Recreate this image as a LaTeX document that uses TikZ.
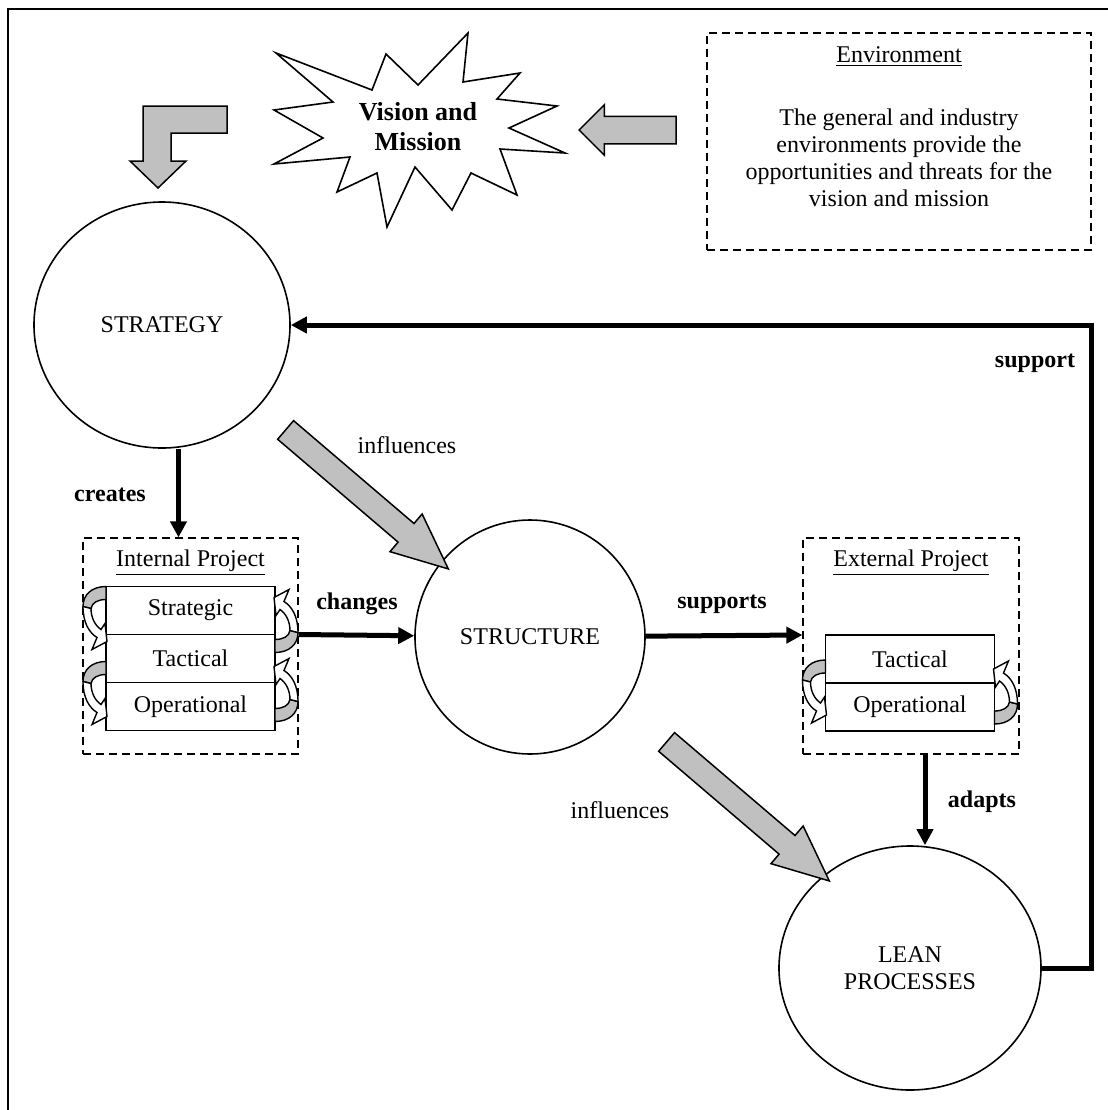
\documentclass[tikz,border=0pt]{standalone}
\usepackage{fontspec}
\setmainfont{Liberation Serif}
\usetikzlibrary{arrows.meta, calc, positioning, shapes.geometric, shapes.arrows}

\begin{document}
\begin{tikzpicture}[x=0.5pt, y=-0.5pt,
    every node/.style={font=\fontsize{12}{13.5}\selectfont},
    circ/.style={draw, ellipse, line width=0.8pt, inner sep=0pt, align=center},
    dashbox/.style={draw, dashed, dash pattern=on 4pt off 2.5pt, line width=0.6pt, inner sep=0pt},
    rowbox/.style={draw, fill=white, line width=0.75pt, minimum width=84.5pt, minimum height=24pt, inner sep=0pt, outer sep=0pt},
    lbl/.style={font=\bfseries\fontsize{12}{13.5}\selectfont},
    flow/.style={line width=2.5pt, -{Triangle[length=8pt,width=8pt]}},
    blockarrow/.style={single arrow, draw, fill=arrowGrey, line width=0.75pt, single arrow head indent=0pt, inner sep=0pt},
    curl/.pic={
        \draw[fill=arrowGrey, line width=0.7pt] (0,0) .. controls (-14,0) and (-23,8) .. (-23,20) -- (-15,22) .. controls (-14,16) and (-8,13) .. (0,13) -- cycle;
        \draw[fill=white, line width=0.7pt] (-23,20) .. controls (-23,36) and (-17,46) .. (-9,51) -- (-14,63) -- (1,55) -- (-1,37) -- (-5,43) .. controls (-11,39) and (-15,31) .. (-15,22) -- cycle;
    }]
    \definecolor{arrowGrey}{HTML}{C0C0C0}

    \useasboundingbox (0,0) rectangle (1108,1110);

    % Frame
    \draw[line width=1pt] (8,1110) -- (8,9) -- (1108,9);

    % Vision and mission
    \draw[line width=0.8pt, fill=white] (276,53) -- (372,90) -- (386,54) -- (418,85) -- (468,33) -- (463,82)
        -- (520,73) -- (497,99) -- (557,106) -- (509,128) -- (565,153) -- (500,149) -- (517,195) -- (471,173)
        -- (452,210) -- (415,167) -- (387,227) -- (377,173) -- (337,192) -- (350,157) -- (274,164) -- (323,138)
        -- (274,110) -- (333,102) -- cycle;
    \node[align=center, font=\bfseries\fontsize{13}{15}\selectfont] (vision) at (418,127) {Vision and\\Mission};

    % Environment
    \node[dashbox, minimum width=192pt, minimum height=108.5pt] (env) at (899,141.5) {};
    \node (envtitle) at (899,57) {\underline{Environment}};
    \node[align=center] (envtext) at (899,158) {The general and industry\\environments provide the\\opportunities and threats for the\\vision and mission};
    \node[blockarrow, minimum height=48.5pt, inner ysep=6.5pt, single arrow head extend=5.75pt, rotate=180] (envarrow) at (634.5,130) {};

    % Bent arrow into strategy
    \draw[fill=arrowGrey, line width=0.75pt] (227,106) -- (143,106) -- (143,161) -- (130,161) -- (158,188)
        -- (186,161) -- (171,161) -- (171,133) -- (227,133) -- cycle;

    % Circles
    \node[circ, minimum width=128pt, minimum height=123pt] (strategy) at (162,325) {STRATEGY};
    \node[circ, minimum width=115pt, minimum height=117pt] (structure) at (530,637) {STRUCTURE};
    \node[circ, minimum width=131pt, minimum height=122pt] (lean) at (910,968) {LEAN\\PROCESSES};

    % Internal project
    \node[dashbox, minimum width=107.5pt, minimum height=108pt] (iproj) at (190.5,646) {};
    \node (ititle) at (190.5,563) {\underline{Internal Project}};
    \node[rowbox] (istrat) at (190.5,610.5) {Strategic};
    \node[rowbox, below=0pt of istrat] (itact) {Tactical};
    \node[rowbox, below=0pt of itact] (iop) {Operational};
    \pic at (istrat.north west) {curl};
    \pic at ($(itact.north west)+(0,27)$) {curl};
    \pic[rotate=180] at ($(istrat.north east)+(0,66)$) {curl};
    \pic[rotate=180] at ($(itact.north east)+(0,87)$) {curl};

    % External project
    \node[dashbox, minimum width=108pt, minimum height=108pt] (eproj) at (911,646) {};
    \node (etitle) at (911,563) {\underline{External Project}};
    \node[rowbox] (etact) at (910,659) {Tactical};
    \node[rowbox, below=0pt of etact] (eop) {Operational};
    \pic at ($(etact.north west)+(0,25)$) {curl};
    \pic[rotate=180] at ($(etact.north east)+(0,89)$) {curl};

    % Influences
    \node[blockarrow, minimum height=107pt, inner ysep=5.75pt, single arrow head extend=6.25pt, single arrow tip angle=48, rotate=-40.5] (infla) at (356.5,490.5) {};
    \node (inflalbl) at (407,445) {influences};
    \node[blockarrow, minimum height=107pt, inner ysep=5.75pt, single arrow head extend=6.25pt, single arrow tip angle=48, rotate=-40.5] (inflb) at (737.5,802.5) {};
    \node (inflblbl) at (620,810) {influences};

    % Connectors
    \draw[flow] ([xshift=-6pt]iproj.north |- strategy.south) -- ([xshift=-6pt]iproj.north);
    \node[lbl] (creates) at (110,495) {creates};
    \draw[flow] (iproj.east |- istrat.south) -- (structure);
    \node[lbl] (changes) at (357,604) {changes};
    \draw[flow] (structure) -- (eproj.west |- etact.north);
    \node[lbl] (supports) at (722,604) {supports};
    \draw[flow] ([xshift=7pt]eproj.south) -- ([xshift=7pt]eproj.south |- lean.north);
    \node[lbl] (adapts) at (982,802) {adapts};
    \coordinate (supcorner) at (1091,325);
    \draw[flow] (lean.east) -| (supcorner) -- (strategy.east);
    \node[lbl] (support) at (1035,363) {support};
\end{tikzpicture}
\end{document}
